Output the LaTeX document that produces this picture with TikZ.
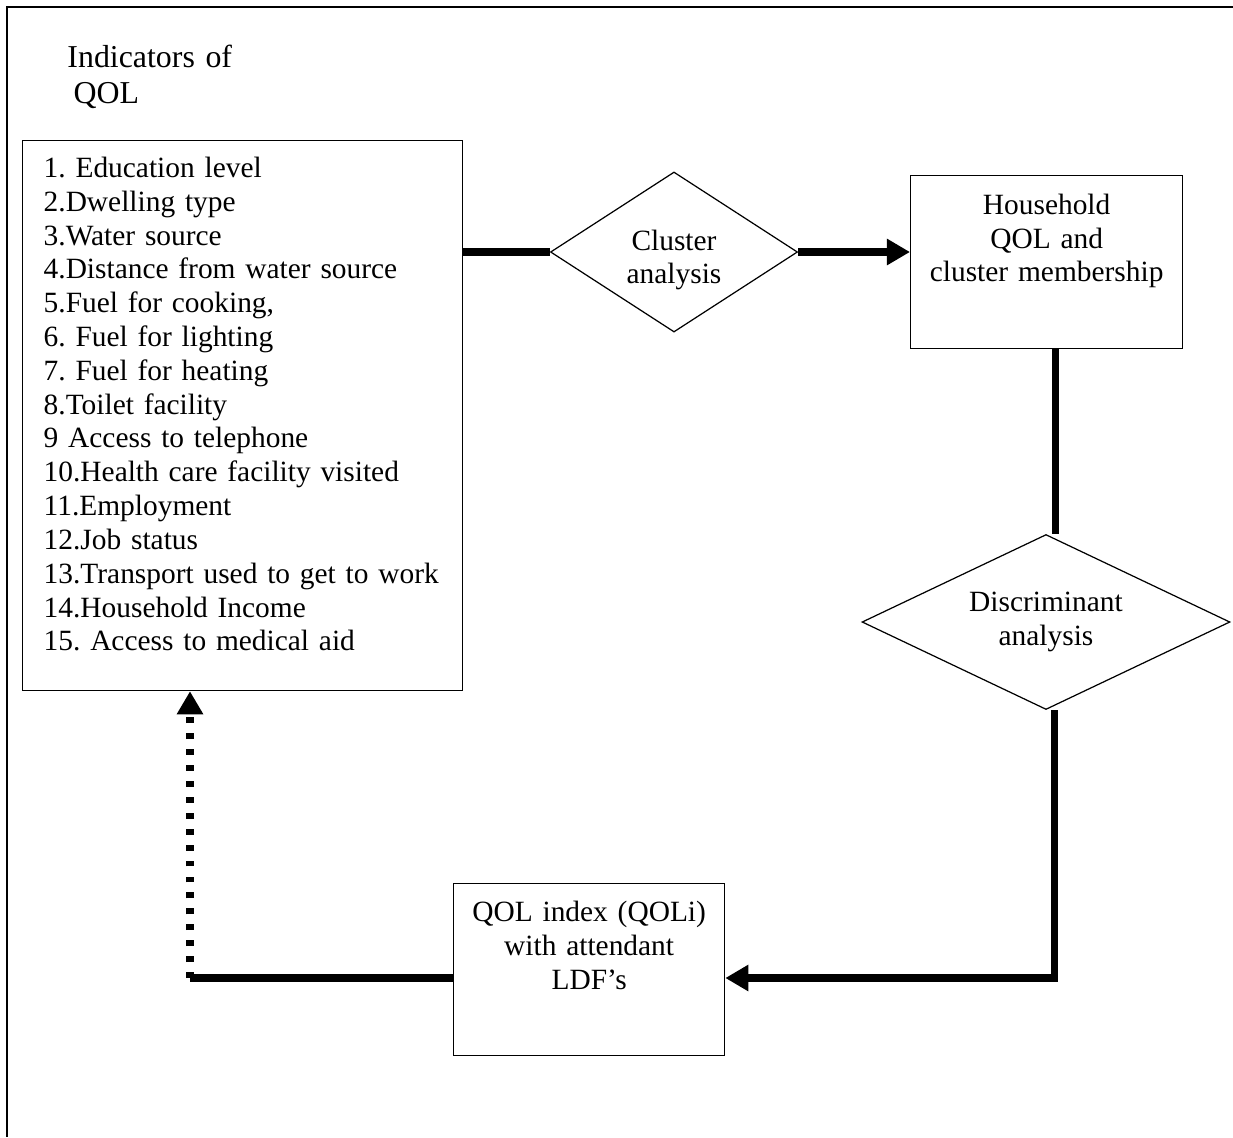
\documentclass[tikz,border=0pt]{standalone}
\usepackage{fontspec}
\setmainfont{Liberation Serif}
\usetikzlibrary{arrows.meta}
\usetikzlibrary{shapes.geometric}
\frenchspacing
\tikzset{box/.style = {draw, line width=0.5pt, inner ysep=0pt, inner xsep=4pt,
                       font=\fontsize{12}{13.8}\selectfont},
         decision/.style = {draw, diamond, line width=0.5pt, inner sep=0pt, aspect=1.5,
                            align=center, font=\fontsize{12}{13.8}\selectfont},
         flow/.style = {line width=2.9pt},
         flowarrow/.style = {flow, -{Triangle[length=9.4pt,width=10.2pt]}}}

\begin{document}
\begin{tikzpicture}[x=0.408pt, y=-0.408pt]
  \useasboundingbox (0,0) rectangle (1233,1137);
  \draw[line width=0.9pt] (1233,7) -| (7,1137);

  \node[anchor=base west, inner sep=0pt, text width=80pt, align=left,
        font=\fontsize{13}{14.9}\selectfont] (title) at (67,67)
        {Indicators of\\\hspace{2.5pt}QOL};

  \node[box, anchor=north west, inner xsep=8.6pt, text width=162.4pt, align=left,
        text height=15pt, text depth=209.4pt] (ind) at (22,140)
        {1. Education level\\
         2.Dwelling type\\
         3.Water source\\
         4.Distance from water source\\
         5.Fuel for cooking,\\
         6. Fuel for lighting\\
         7. Fuel for heating\\
         8.Toilet facility\\
         9 Access to telephone\\
         10.Health care facility visited\\
         11.Employment\\
         12.Job status\\
         13.Transport used to get to work\\
         14.Household Income\\
         15. Access to medical aid};

  \node[decision, minimum width=100.8pt, minimum height=65.3pt,
        text height=28.6pt] (cl) at (674,252) {Cluster\\analysis};
  \node[box, anchor=north west, text width=103pt, align=center,
        text height=15.8pt, text depth=54.8pt] (hh) at (910,175)
        {Household\\QOL and\\cluster membership};
  \node[decision, minimum width=150.1pt, minimum height=71.4pt] (disc) at (1046,622)
        {Discriminant\\analysis};
  \node[box, anchor=north west, text width=102.6pt, align=center,
        text height=15.6pt, text depth=54.6pt] (qoli) at (453,883)
        {QOL index (QOLi)\\with attendant\\LDF’s};

  % connectors
  \coordinate (bend) at (190,978);
  \draw[flow] (ind.east |- cl.west) -- (cl.west);
  \draw[flowarrow] (cl.east) -- (cl.east -| hh.west);
  \draw[flow] ([xshift=3.6pt]hh.south) -- ([xshift=3.6pt]hh.south |- disc.north);
  \draw[flowarrow] ([xshift=3.6pt]disc.south) |- (qoli.east |- bend);
  \draw[flow] (qoli.west |- bend) -- (bend);
  \draw[flowarrow, dash pattern=on 2.4pt off 4.1pt] (bend) -- (bend |- ind.south);
\end{tikzpicture}
\end{document}
